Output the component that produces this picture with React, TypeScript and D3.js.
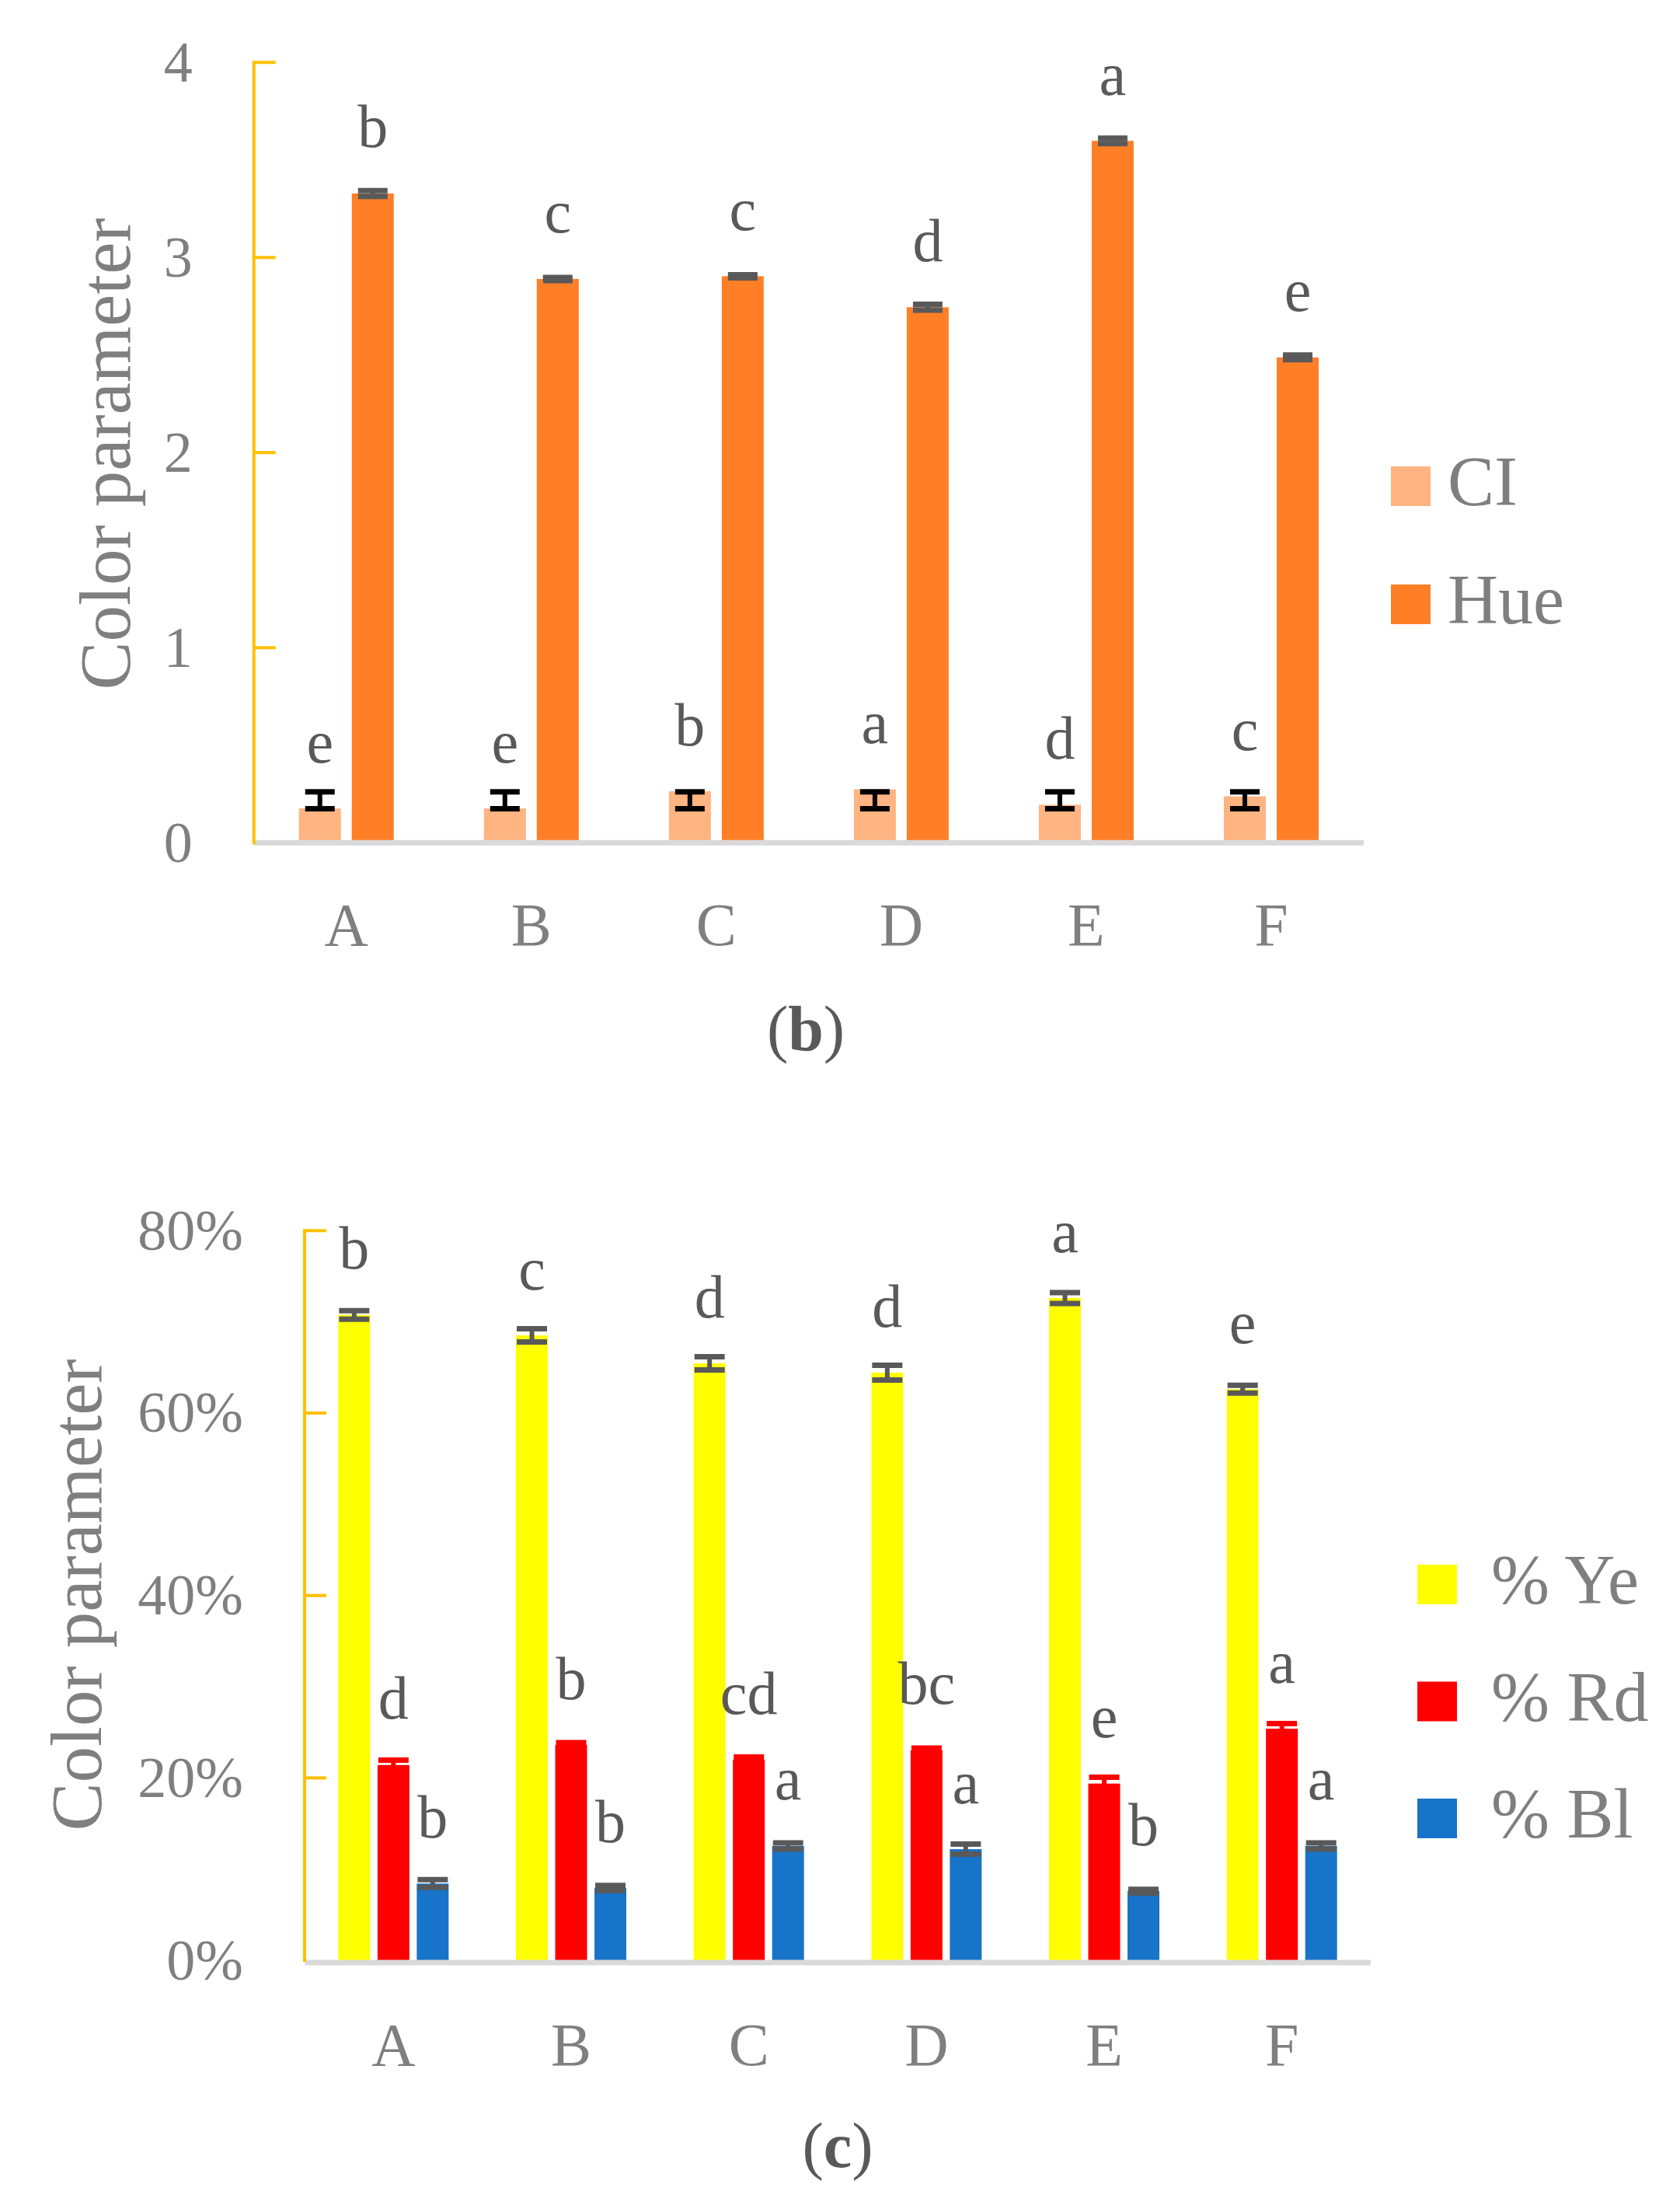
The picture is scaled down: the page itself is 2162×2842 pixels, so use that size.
import React from "react";
import * as d3 from "d3";

// ---------- Data ----------
const categories = ["A", "B", "C", "D", "E", "F"];

// Panel (b)
const ciValues = [0.176, 0.176, 0.264, 0.274, 0.195, 0.238];
const ciErrMid = [0.218, 0.218, 0.218, 0.218, 0.218, 0.218];
const ciErrors = [0.043, 0.043, 0.043, 0.043, 0.043, 0.043];
const ciLetters = ["e", "e", "b", "a", "d", "c"];
const hueValues = [3.328, 2.89, 2.904, 2.745, 3.598, 2.488];
const hueErrors = [0.015, 0.008, 0.008, 0.015, 0.014, 0.012];
const hueLetters = ["b", "c", "c", "d", "a", "e"];
const ticksB = [0, 1, 2, 3, 4];

// Panel (c)
const yeValues = [0.7076, 0.6852, 0.6545, 0.6443, 0.7261, 0.6262];
const yeErrors = [0.0047, 0.0072, 0.0072, 0.0081, 0.006, 0.0043];
const yeLetters = ["b", "c", "d", "d", "a", "e"];
const rdValues = [0.2142, 0.2361, 0.2199, 0.2302, 0.1938, 0.254];
const rdErrors = [0.0053, 0.0025, 0.003, 0.0025, 0.007, 0.0055];
const rdLetters = ["d", "b", "cd", "bc", "e", "a"];
const blValues = [0.0842, 0.0793, 0.1254, 0.1219, 0.0759, 0.1254];
const blErrors = [0.0043, 0.0028, 0.0034, 0.0055, 0.002, 0.0034];
const blLetters = ["b", "b", "a", "a", "b", "a"];
const ticksC = [0, 0.2, 0.4, 0.6, 0.8];

// ---------- Styles ----------
const FONT = "'Liberation Serif', 'Times New Roman', serif";
const TICK_GRAY = "#7F7F7F";
const LABEL_GRAY = "#595959";
const AXIS_GOLD = "#FFC000";
const BASE_GRAY = "#D9D9D9";

type Series = {
  name: string;
  values: number[];
  errMid?: number[];
  errors: number[];
  letters: string[];
  color: string;
  errColor: string;
};

type Layout = {
  x0: number;
  x1: number;
  yTop: number;
  yZero: number;
  domainMax: number;
  ticks: number[];
  tickFmt: (v: number) => string;
  barW: number;
  step: number;
  capW: number;
  baseOffset: number;
  legendX: number;
  legendY: number;
  legendDy: number;
  legendTextDx: number;
  titleX: number;
  titleY: number;
  catBaseline: number;
  panelLabel: string;
  panelX: number;
  panelY: number;
};

function Panel({ series, L }: { series: Series[]; L: Layout }) {
  const x = d3.scaleBand<string>().domain(categories).range([L.x0, L.x1]).paddingInner(0).paddingOuter(0);
  const y = d3.scaleLinear().domain([0, L.domainMax]).range([L.yZero, L.yTop]);
  const n = series.length;
  const barCenter = (ci: number, si: number) =>
    (x(categories[ci]) as number) + x.bandwidth() / 2 + (si - (n - 1) / 2) * L.step;

  const stemW = 6;
  const capT = 7;

  return (
    <g>
      {/* bars */}
      {series.map((s, si) =>
        s.values.map((v, ci) => (
          <rect
            key={`bar-${si}-${ci}`}
            x={barCenter(ci, si) - L.barW / 2}
            y={y(v)}
            width={L.barW}
            height={y(0) - y(v)}
            fill={s.color}
          />
        ))
      )}
      {/* baseline */}
      <line
        x1={L.x0}
        x2={L.x1}
        y1={y(0) + L.baseOffset}
        y2={y(0) + L.baseOffset}
        stroke={BASE_GRAY}
        strokeWidth={7}
      />
      {/* y axis */}
      <line x1={L.x0} x2={L.x0} y1={y(L.domainMax) - 2} y2={y(0) + 2} stroke={AXIS_GOLD} strokeWidth={4} />
      {L.ticks.map((t) => (
        <g key={`tick-${t}`}>
          {t > 0 && (
            <line x1={L.x0} x2={L.x0 + 28} y1={y(t)} y2={y(t)} stroke={AXIS_GOLD} strokeWidth={4} />
          )}
          <text
            x={L.x0 - 79}
            y={y(t)}
            dy="0.33em"
            textAnchor="end"
            fontFamily={FONT}
            fontSize={74}
            fill={TICK_GRAY}
          >
            {L.tickFmt(t)}
          </text>
        </g>
      ))}
      {/* error bars */}
      {series.map((s, si) =>
        s.values.map((v, ci) => {
          const mid = s.errMid ? s.errMid[ci] : v;
          const e = s.errors[ci];
          const cx = barCenter(ci, si);
          const yHi = y(mid + e);
          const yLo = y(mid - e);
          return (
            <g key={`err-${si}-${ci}`} stroke={s.errColor}>
              <line x1={cx} x2={cx} y1={yHi} y2={yLo} strokeWidth={stemW} />
              <line x1={cx - L.capW / 2} x2={cx + L.capW / 2} y1={yHi} y2={yHi} strokeWidth={capT} />
              <line x1={cx - L.capW / 2} x2={cx + L.capW / 2} y1={yLo} y2={yLo} strokeWidth={capT} />
            </g>
          );
        })
      )}
      {/* significance letters */}
      {series.map((s, si) =>
        s.values.map((v, ci) => (
          <text
            key={`lt-${si}-${ci}`}
            x={barCenter(ci, si)}
            y={y(v) - 59.5}
            textAnchor="middle"
            fontFamily={FONT}
            fontSize={78}
            fill={LABEL_GRAY}
          >
            {s.letters[ci]}
          </text>
        ))
      )}
      {/* category labels */}
      {categories.map((c) => (
        <text
          key={`cat-${c}`}
          x={(x(c) as number) + x.bandwidth() / 2}
          y={L.catBaseline}
          textAnchor="middle"
          fontFamily={FONT}
          fontSize={78}
          fill={TICK_GRAY}
        >
          {c}
        </text>
      ))}
      {/* y title */}
      <text
        transform={`translate(${L.titleX},${L.titleY}) rotate(-90)`}
        textAnchor="middle"
        fontFamily={FONT}
        fontSize={93}
        fill={TICK_GRAY}
      >
        Color parameter
      </text>
      {/* legend */}
      {series.map((s, si) => (
        <g key={`lg-${si}`}>
          <rect x={L.legendX} y={L.legendY + si * L.legendDy} width={51} height={51} fill={s.color} />
          <text
            x={L.legendX + L.legendTextDx}
            y={L.legendY + si * L.legendDy + 50}
            fontFamily={FONT}
            fontSize={90}
            fill={TICK_GRAY}
          >
            {s.name}
          </text>
        </g>
      ))}
      {/* panel label */}
      <text x={L.panelX} y={L.panelY} textAnchor="middle" fontFamily={FONT} fontSize={82} fill={LABEL_GRAY}>
        (<tspan fontWeight="bold">{L.panelLabel}</tspan>)
      </text>
    </g>
  );
}

const seriesB: Series[] = [
  { name: "CI", values: ciValues, errMid: ciErrMid, errors: ciErrors, letters: ciLetters, color: "#FFB482", errColor: "#000000" },
  { name: "Hue", values: hueValues, errors: hueErrors, letters: hueLetters, color: "#FF7F27", errColor: "#595959" },
];

const seriesC: Series[] = [
  { name: "% Ye", values: yeValues, errors: yeErrors, letters: yeLetters, color: "#FFFF00", errColor: "#595959" },
  { name: "% Rd", values: rdValues, errors: rdErrors, letters: rdLetters, color: "#FF0000", errColor: "#FF0000" },
  { name: "% Bl", values: blValues, errors: blErrors, letters: blLetters, color: "#1874C8", errColor: "#595959" },
];

const layoutB: Layout = {
  x0: 326.7,
  x1: 1755,
  yTop: 80.3,
  yZero: 1084.3,
  domainMax: 4,
  ticks: ticksB,
  tickFmt: (v) => d3.format("d")(v),
  barW: 54,
  step: 68,
  capW: 38,
  baseOffset: 0,
  legendX: 1790,
  legendY: 600,
  legendDy: 152,
  legendTextDx: 73,
  titleX: 167,
  titleY: 584,
  catBaseline: 1216,
  panelLabel: "b",
  panelX: 1037,
  panelY: 1351,
};

const layoutC: Layout = {
  x0: 392,
  x1: 1764,
  yTop: 1583.3,
  yZero: 2522.1,
  domainMax: 0.8,
  ticks: ticksC,
  tickFmt: (v) => d3.format(".0%")(v),
  barW: 41,
  step: 50.5,
  capW: 39,
  baseOffset: 3,
  legendX: 1824,
  legendY: 2013,
  legendDy: 150.5,
  legendTextDx: 95,
  titleX: 130,
  titleY: 2052,
  catBaseline: 2657,
  panelLabel: "c",
  panelX: 1078,
  panelY: 2788,
};

export default function App() {
  return (
    <svg
      width={2162}
      height={2842}
      viewBox="0 0 2162 2842"
      style={{ position: "absolute", left: 0, top: 0, background: "#FFFFFF" }}
    >
      <rect x={0} y={0} width={2162} height={2842} fill="#FFFFFF" />
      <Panel series={seriesB} L={layoutB} />
      <Panel series={seriesC} L={layoutC} />
    </svg>
  );
}
